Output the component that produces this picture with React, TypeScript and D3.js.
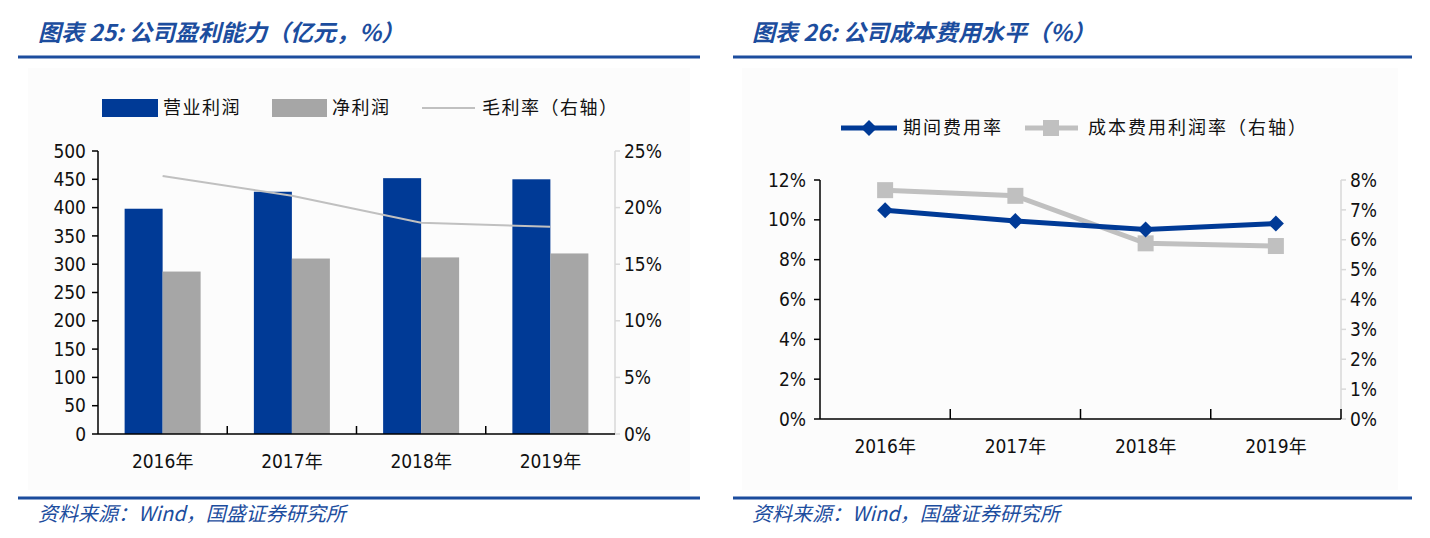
import React from 'react';
import * as d3 from 'd3';

// 图表25 data
const years = ['2016年', '2017年', '2018年', '2019年'];
const operatingProfit = [398, 428, 452, 450];
const netProfit = [287, 310, 312, 319];
const grossMargin = [0.228, 0.2105, 0.1867, 0.183];
const leftTicks = [0, 50, 100, 150, 200, 250, 300, 350, 400, 450, 500];
const leftPctTicks = [0, 0.05, 0.1, 0.15, 0.2, 0.25];

// 图表26 data
const expenseRate = [0.1048, 0.0994, 0.0951, 0.0981];
const costProfitRate = [0.0766, 0.0747, 0.0588, 0.0579];
const rightTicksL = [0, 0.02, 0.04, 0.06, 0.08, 0.1, 0.12];
const rightTicksR = [0, 0.01, 0.02, 0.03, 0.04, 0.05, 0.06, 0.07, 0.08];

const BLUE = '#003a96';
const GRAY = '#a6a6a6';
const LIGHT = '#c0c0c0';
const TITLE_BLUE = '#1c4d9e';
const NUM_FONT = '"DejaVu Sans Condensed", "DejaVu Sans", sans-serif';
const CJK_FONT = '"Noto Sans CJK SC", "Noto Sans", sans-serif';
const pct = d3.format('.0%');

const Header: React.FC<{ x: number; x1: number; x2: number; label: string; rest: string }> = ({ x, x1, x2, label, rest }) => (
  <g>
    <text x={x} y={41} fill={TITLE_BLUE} fontSize={23} fontWeight="bold" fontStyle="italic" fontFamily={CJK_FONT}>
      {label} {rest}
    </text>
    <line x1={x1} x2={x2} y1={57} y2={57} stroke={TITLE_BLUE} strokeWidth={3} />
    <line x1={x1} x2={x2} y1={498} y2={498} stroke={TITLE_BLUE} strokeWidth={3} />
    <text x={x} y={521} fill={TITLE_BLUE} fontSize={20} fontStyle="italic" fontFamily={CJK_FONT}>
      资料来源：Wind，国盛证券研究所
    </text>
  </g>
);

const ProfitChart: React.FC = () => {
  const x = d3.scaleBand().domain(years).range([98, 615]);
  const y = d3.scaleLinear().domain([0, 500]).range([434, 151]);
  const yR = d3.scaleLinear().domain([0, 0.25]).range([434, 151]);
  const bw = 38;
  const cx = (d: string) => (x(d) as number) + x.bandwidth() / 2;
  const line = d3.line<number>().x((_, i) => cx(years[i])).y(d => yR(d));
  const [x0, x1] = x.range();
  return (
    <g>
      <rect x={28} y={68} width={662} height={422} fill="#fcfcfc" />
      {/* legend */}
      <rect x={102} y={99} width={56} height={18} fill={BLUE} />
      <text x={163} y={114} fontSize={18} letterSpacing={1.5} fontFamily={CJK_FONT} fill="#111">营业利润</text>
      <rect x={272} y={99} width={55} height={18} fill={GRAY} />
      <text x={332} y={114} fontSize={18} letterSpacing={1.5} fontFamily={CJK_FONT} fill="#111">净利润</text>
      <line x1={422} x2={475} y1={108} y2={108} stroke={LIGHT} strokeWidth={2} />
      <text x={482} y={114} fontSize={18} letterSpacing={1.5} fontFamily={CJK_FONT} fill="#111">毛利率（右轴）</text>

      {years.map((d, i) => (
        <g key={d}>
          <rect x={cx(d) - bw} y={y(operatingProfit[i])} width={bw} height={y(0) - y(operatingProfit[i])} fill={BLUE} />
          <rect x={cx(d)} y={y(netProfit[i])} width={bw} height={y(0) - y(netProfit[i])} fill={GRAY} />
        </g>
      ))}
      <path d={line(grossMargin) || ''} fill="none" stroke={LIGHT} strokeWidth={2} />

      {/* left axis */}
      <line x1={x0} x2={x0} y1={y(500)} y2={y(0)} stroke="#000" strokeWidth={1.5} />
      {leftTicks.map(t => (
        <g key={t}>
          <line x1={x0 - 6} x2={x0} y1={y(t)} y2={y(t)} stroke="#000" strokeWidth={1.5} />
          <text x={x0 - 12} y={y(t)} dy="0.35em" textAnchor="end" fontSize={19} fontFamily={NUM_FONT} fill="#111">{t}</text>
        </g>
      ))}
      {/* right axis */}
      <line x1={x1} x2={x1} y1={yR(0.25)} y2={yR(0)} stroke="#d9d9d9" strokeWidth={1.5} />
      {leftPctTicks.map(t => (
        <g key={t}>
          <line x1={x1} x2={x1 + 5} y1={yR(t)} y2={yR(t)} stroke="#d9d9d9" strokeWidth={1.5} />
          <text x={x1 + 9} y={yR(t)} dy="0.35em" fontSize={19} fontFamily={NUM_FONT} fill="#111">{pct(t)}</text>
        </g>
      ))}
      {/* x axis */}
      <line x1={x0} x2={x1} y1={y(0)} y2={y(0)} stroke="#000" strokeWidth={1.5} />
      {years.map((d, i) => (
        <g key={d}>
          {i > 0 && <line x1={x(d)} x2={x(d)} y1={y(0) - 8} y2={y(0)} stroke="#000" strokeWidth={1.5} />}
          <text x={cx(d)} y={468} textAnchor="middle" fontSize={19} fontFamily={NUM_FONT} fill="#111">
            {d.slice(0, 4)}<tspan fontFamily={CJK_FONT} fontSize={18}>年</tspan>
          </text>
        </g>
      ))}
    </g>
  );
};

const CostChart: React.FC = () => {
  const x = d3.scaleBand().domain(years).range([820, 1341]);
  const y = d3.scaleLinear().domain([0, 0.12]).range([419, 180]);
  const yR = d3.scaleLinear().domain([0, 0.08]).range([419, 180]);
  const cx = (d: string) => (x(d) as number) + x.bandwidth() / 2;
  const lineL = d3.line<number>().x((_, i) => cx(years[i])).y(d => y(d));
  const lineR = d3.line<number>().x((_, i) => cx(years[i])).y(d => yR(d));
  const [x0, x1] = x.range();
  const diamond = (px: number, py: number, r: number) => `M${px},${py - r}L${px + r},${py}L${px},${py + r}L${px - r},${py}Z`;
  return (
    <g>
      <rect x={742} y={68} width={656} height={422} fill="#fcfcfc" />
      {/* legend */}
      <line x1={841} x2={897} y1={128} y2={128} stroke={BLUE} strokeWidth={5} />
      <path d={diamond(869, 128, 8)} fill={BLUE} />
      <text x={903} y={134} fontSize={18} letterSpacing={2} fontFamily={CJK_FONT} fill="#111">期间费用率</text>
      <line x1={1025} x2={1078} y1={128} y2={128} stroke={LIGHT} strokeWidth={5} />
      <rect x={1043} y={120} width={16} height={16} fill={LIGHT} />
      <text x={1088} y={134} fontSize={18} letterSpacing={2} fontFamily={CJK_FONT} fill="#111">成本费用利润率（右轴）</text>

      <path d={lineR(costProfitRate) || ''} fill="none" stroke={LIGHT} strokeWidth={5} />
      {costProfitRate.map((v, i) => (
        <rect key={i} x={cx(years[i]) - 8} y={yR(v) - 8} width={16} height={16} fill={LIGHT} />
      ))}
      <path d={lineL(expenseRate) || ''} fill="none" stroke={BLUE} strokeWidth={5} />
      {expenseRate.map((v, i) => (
        <path key={i} d={diamond(cx(years[i]), y(v), 8)} fill={BLUE} />
      ))}

      {/* left axis */}
      <line x1={x0} x2={x0} y1={y(0.12)} y2={y(0)} stroke="#000" strokeWidth={1.5} />
      {rightTicksL.map(t => (
        <g key={t}>
          <line x1={x0 - 6} x2={x0} y1={y(t)} y2={y(t)} stroke="#000" strokeWidth={1.5} />
          <text x={x0 - 14} y={y(t)} dy="0.35em" textAnchor="end" fontSize={19} fontFamily={NUM_FONT} fill="#111">{pct(t)}</text>
        </g>
      ))}
      {/* right axis */}
      <line x1={x1} x2={x1} y1={yR(0.08)} y2={yR(0)} stroke="#d9d9d9" strokeWidth={1.5} />
      {rightTicksR.map(t => (
        <g key={t}>
          <line x1={x1} x2={x1 + 5} y1={yR(t)} y2={yR(t)} stroke="#d9d9d9" strokeWidth={1.5} />
          <text x={x1 + 9} y={yR(t)} dy="0.35em" fontSize={19} fontFamily={NUM_FONT} fill="#111">{pct(t)}</text>
        </g>
      ))}
      {/* x axis */}
      <line x1={x0} x2={x1} y1={y(0)} y2={y(0)} stroke="#000" strokeWidth={1.5} />
      {years.map((d, i) => (
        <g key={d}>
          <line x1={(x(d) as number) + x.bandwidth()} x2={(x(d) as number) + x.bandwidth()} y1={y(0) - 10} y2={y(0)} stroke="#000" strokeWidth={1.5} />
          <text x={cx(d)} y={453} textAnchor="middle" fontSize={19} fontFamily={NUM_FONT} fill="#111">
            {d.slice(0, 4)}<tspan fontFamily={CJK_FONT} fontSize={18}>年</tspan>
          </text>
        </g>
      ))}
    </g>
  );
};

export default function App() {
  return (
    <svg width={1430} height={538} style={{ position: 'absolute', left: 0, top: 0, background: '#fff' }}>
      <rect width={1430} height={538} fill="#fff" />
      <Header x={38} x1={18} x2={700} label="图表 25:" rest="公司盈利能力（亿元，%）" />
      <Header x={752} x1={733} x2={1412} label="图表 26:" rest="公司成本费用水平（%）" />
      <ProfitChart />
      <CostChart />
    </svg>
  );
}
